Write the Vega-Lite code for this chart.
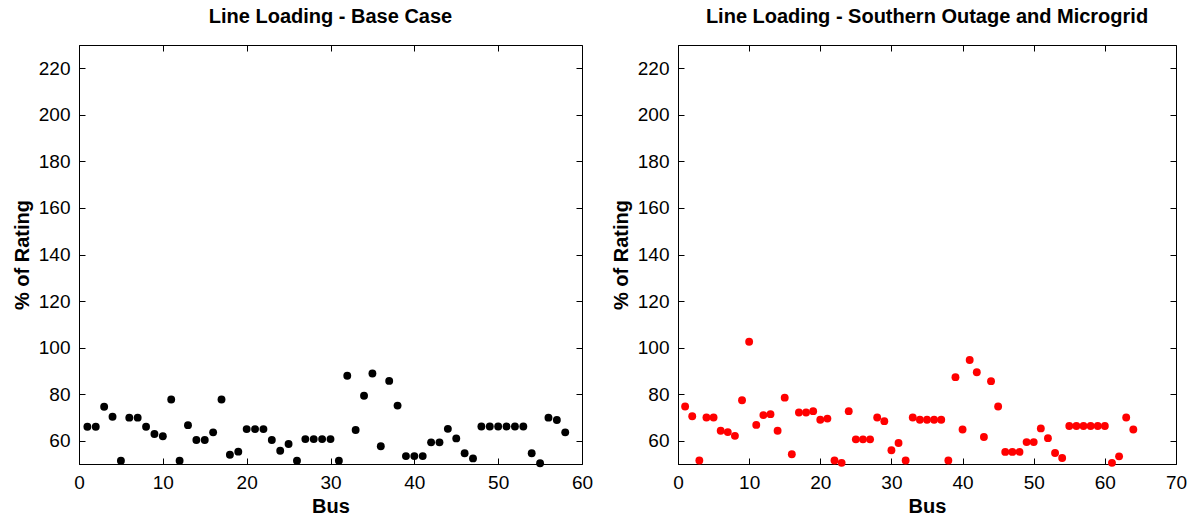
{
  "$schema": "https://vega.github.io/schema/vega-lite/v6.json",
  "background": "white",
  "padding": {"left": 11, "top": 6, "right": 10, "bottom": 2},
  "spacing": 16,
  "config": {
    "font": "Liberation Sans",
    "view": {"stroke": "#000", "strokeWidth": 1},
    "axis": {
      "grid": false,
      "domainColor": "#000",
      "tickColor": "#000",
      "labelColor": "#000",
      "titleColor": "#000",
      "labelFontSize": 19,
      "titleFontSize": 20,
      "titleFontWeight": "bold",
      "tickSize": -6,
      "labelPadding": 15,
      "labelFlush": false,
      "labelOverlap": false
    },
    "title": {"fontSize": 20, "fontWeight": "bold", "color": "#000", "offset": 18}
  },
  "datasets": {
    "base": [
      {"bus": 1, "pct": 66}, {"bus": 2, "pct": 66}, {"bus": 3, "pct": 74.6}, {"bus": 4, "pct": 70.3},
      {"bus": 5, "pct": 51.4}, {"bus": 6, "pct": 69.9}, {"bus": 7, "pct": 69.9}, {"bus": 8, "pct": 66},
      {"bus": 9, "pct": 62.9}, {"bus": 10, "pct": 61.9}, {"bus": 11, "pct": 77.7}, {"bus": 12, "pct": 51.4},
      {"bus": 13, "pct": 66.7}, {"bus": 14, "pct": 60.3}, {"bus": 15, "pct": 60.3}, {"bus": 16, "pct": 63.6},
      {"bus": 17, "pct": 77.7}, {"bus": 18, "pct": 54}, {"bus": 19, "pct": 55.3}, {"bus": 20, "pct": 65},
      {"bus": 21, "pct": 65}, {"bus": 22, "pct": 65}, {"bus": 23, "pct": 60.3}, {"bus": 24, "pct": 55.7},
      {"bus": 25, "pct": 58.6}, {"bus": 26, "pct": 51.4}, {"bus": 27, "pct": 60.7}, {"bus": 28, "pct": 60.7},
      {"bus": 29, "pct": 60.7}, {"bus": 30, "pct": 60.7}, {"bus": 31, "pct": 51.4}, {"bus": 32, "pct": 87.9},
      {"bus": 33, "pct": 64.6}, {"bus": 34, "pct": 79.3}, {"bus": 35, "pct": 88.9}, {"bus": 36, "pct": 57.6},
      {"bus": 37, "pct": 85.7}, {"bus": 38, "pct": 75.1}, {"bus": 39, "pct": 53.4}, {"bus": 40, "pct": 53.4},
      {"bus": 41, "pct": 53.4}, {"bus": 42, "pct": 59.3}, {"bus": 43, "pct": 59.3}, {"bus": 44, "pct": 65.1},
      {"bus": 45, "pct": 61}, {"bus": 46, "pct": 54.6}, {"bus": 47, "pct": 52.4}, {"bus": 48, "pct": 66.1},
      {"bus": 49, "pct": 66.1}, {"bus": 50, "pct": 66.1}, {"bus": 51, "pct": 66.1}, {"bus": 52, "pct": 66.1},
      {"bus": 53, "pct": 66.1}, {"bus": 54, "pct": 54.6}, {"bus": 55, "pct": 50.3}, {"bus": 56, "pct": 69.9},
      {"bus": 57, "pct": 68.9}, {"bus": 58, "pct": 63.6}
    ],
    "micro": [
      {"bus": 1, "pct": 74.7}, {"bus": 2, "pct": 70.5}, {"bus": 3, "pct": 51.5}, {"bus": 4, "pct": 70},
      {"bus": 5, "pct": 70}, {"bus": 6, "pct": 64.3}, {"bus": 7, "pct": 63.7}, {"bus": 8, "pct": 62.1},
      {"bus": 9, "pct": 77.4}, {"bus": 10, "pct": 102.5}, {"bus": 11, "pct": 66.8}, {"bus": 12, "pct": 71},
      {"bus": 13, "pct": 71.4}, {"bus": 14, "pct": 64.3}, {"bus": 15, "pct": 78.5}, {"bus": 16, "pct": 54.2},
      {"bus": 17, "pct": 72.1}, {"bus": 18, "pct": 72.1}, {"bus": 19, "pct": 72.7}, {"bus": 20, "pct": 69},
      {"bus": 21, "pct": 69.5}, {"bus": 22, "pct": 51.5}, {"bus": 23, "pct": 50.5}, {"bus": 24, "pct": 72.7},
      {"bus": 25, "pct": 60.6}, {"bus": 26, "pct": 60.6}, {"bus": 27, "pct": 60.6}, {"bus": 28, "pct": 70},
      {"bus": 29, "pct": 68.4}, {"bus": 30, "pct": 55.9}, {"bus": 31, "pct": 59}, {"bus": 32, "pct": 51.5},
      {"bus": 33, "pct": 70}, {"bus": 34, "pct": 69}, {"bus": 35, "pct": 69}, {"bus": 36, "pct": 69},
      {"bus": 37, "pct": 69}, {"bus": 38, "pct": 51.5}, {"bus": 39, "pct": 87.3}, {"bus": 40, "pct": 64.8},
      {"bus": 41, "pct": 94.7}, {"bus": 42, "pct": 89.4}, {"bus": 43, "pct": 61.6}, {"bus": 44, "pct": 85.6},
      {"bus": 45, "pct": 74.7}, {"bus": 46, "pct": 55.2}, {"bus": 47, "pct": 55.2}, {"bus": 48, "pct": 55.2},
      {"bus": 49, "pct": 59.4}, {"bus": 50, "pct": 59.4}, {"bus": 51, "pct": 65.3}, {"bus": 52, "pct": 61.1},
      {"bus": 53, "pct": 54.7}, {"bus": 54, "pct": 52.6}, {"bus": 55, "pct": 66.3}, {"bus": 56, "pct": 66.3},
      {"bus": 57, "pct": 66.3}, {"bus": 58, "pct": 66.3}, {"bus": 59, "pct": 66.3}, {"bus": 60, "pct": 66.3},
      {"bus": 61, "pct": 50.5}, {"bus": 62, "pct": 53.3}, {"bus": 63, "pct": 70}, {"bus": 64, "pct": 64.8}
    ]
  },
  "hconcat": [
    {
      "width": 503,
      "height": 419,
      "title": "Line Loading - Base Case",
      "data": {"name": "base"},
      "layer": [
        {
          "mark": {"type": "point", "filled": true, "shape": "circle", "size": 62, "color": "#000", "opacity": 1},
          "encoding": {
            "x": {"field": "bus", "type": "quantitative", "scale": {"domain": [0, 60], "nice": false, "zero": false},
                  "axis": {"values": [0, 10, 20, 30, 40, 50, 60], "title": "Bus", "titlePadding": 4}},
            "y": {"field": "pct", "type": "quantitative", "scale": {"domain": [50, 230], "nice": false, "zero": false},
                  "axis": {"values": [60, 80, 100, 120, 140, 160, 180, 200, 220], "title": "% of Rating", "titlePadding": 6}}
          }
        },
        {
          "mark": {"type": "point", "opacity": 0},
          "encoding": {
            "x": {"field": "bus", "type": "quantitative", "scale": {"domain": [0, 60], "nice": false, "zero": false},
                  "axis": {"orient": "top", "values": [0, 10, 20, 30, 40, 50, 60], "labels": false, "title": null, "domain": false}},
            "y": {"field": "pct", "type": "quantitative", "scale": {"domain": [50, 230], "nice": false, "zero": false},
                  "axis": {"orient": "right", "values": [60, 80, 100, 120, 140, 160, 180, 200, 220], "labels": false, "title": null, "domain": false}}
          }
        }
      ],
      "resolve": {"axis": {"x": "independent", "y": "independent"}}
    },
    {
      "width": 498,
      "height": 419,
      "title": "Line Loading - Southern Outage and Microgrid",
      "data": {"name": "micro"},
      "layer": [
        {
          "mark": {"type": "point", "filled": true, "shape": "circle", "size": 62, "color": "#ff0000", "opacity": 1},
          "encoding": {
            "x": {"field": "bus", "type": "quantitative", "scale": {"domain": [0, 70], "nice": false, "zero": false},
                  "axis": {"values": [0, 10, 20, 30, 40, 50, 60, 70], "title": "Bus", "titlePadding": 4}},
            "y": {"field": "pct", "type": "quantitative", "scale": {"domain": [50, 230], "nice": false, "zero": false},
                  "axis": {"values": [60, 80, 100, 120, 140, 160, 180, 200, 220], "title": "% of Rating", "titlePadding": 6}}
          }
        },
        {
          "mark": {"type": "point", "opacity": 0},
          "encoding": {
            "x": {"field": "bus", "type": "quantitative", "scale": {"domain": [0, 70], "nice": false, "zero": false},
                  "axis": {"orient": "top", "values": [0, 10, 20, 30, 40, 50, 60, 70], "labels": false, "title": null, "domain": false}},
            "y": {"field": "pct", "type": "quantitative", "scale": {"domain": [50, 230], "nice": false, "zero": false},
                  "axis": {"orient": "right", "values": [60, 80, 100, 120, 140, 160, 180, 200, 220], "labels": false, "title": null, "domain": false}}
          }
        }
      ],
      "resolve": {"axis": {"x": "independent", "y": "independent"}}
    }
  ]
}
